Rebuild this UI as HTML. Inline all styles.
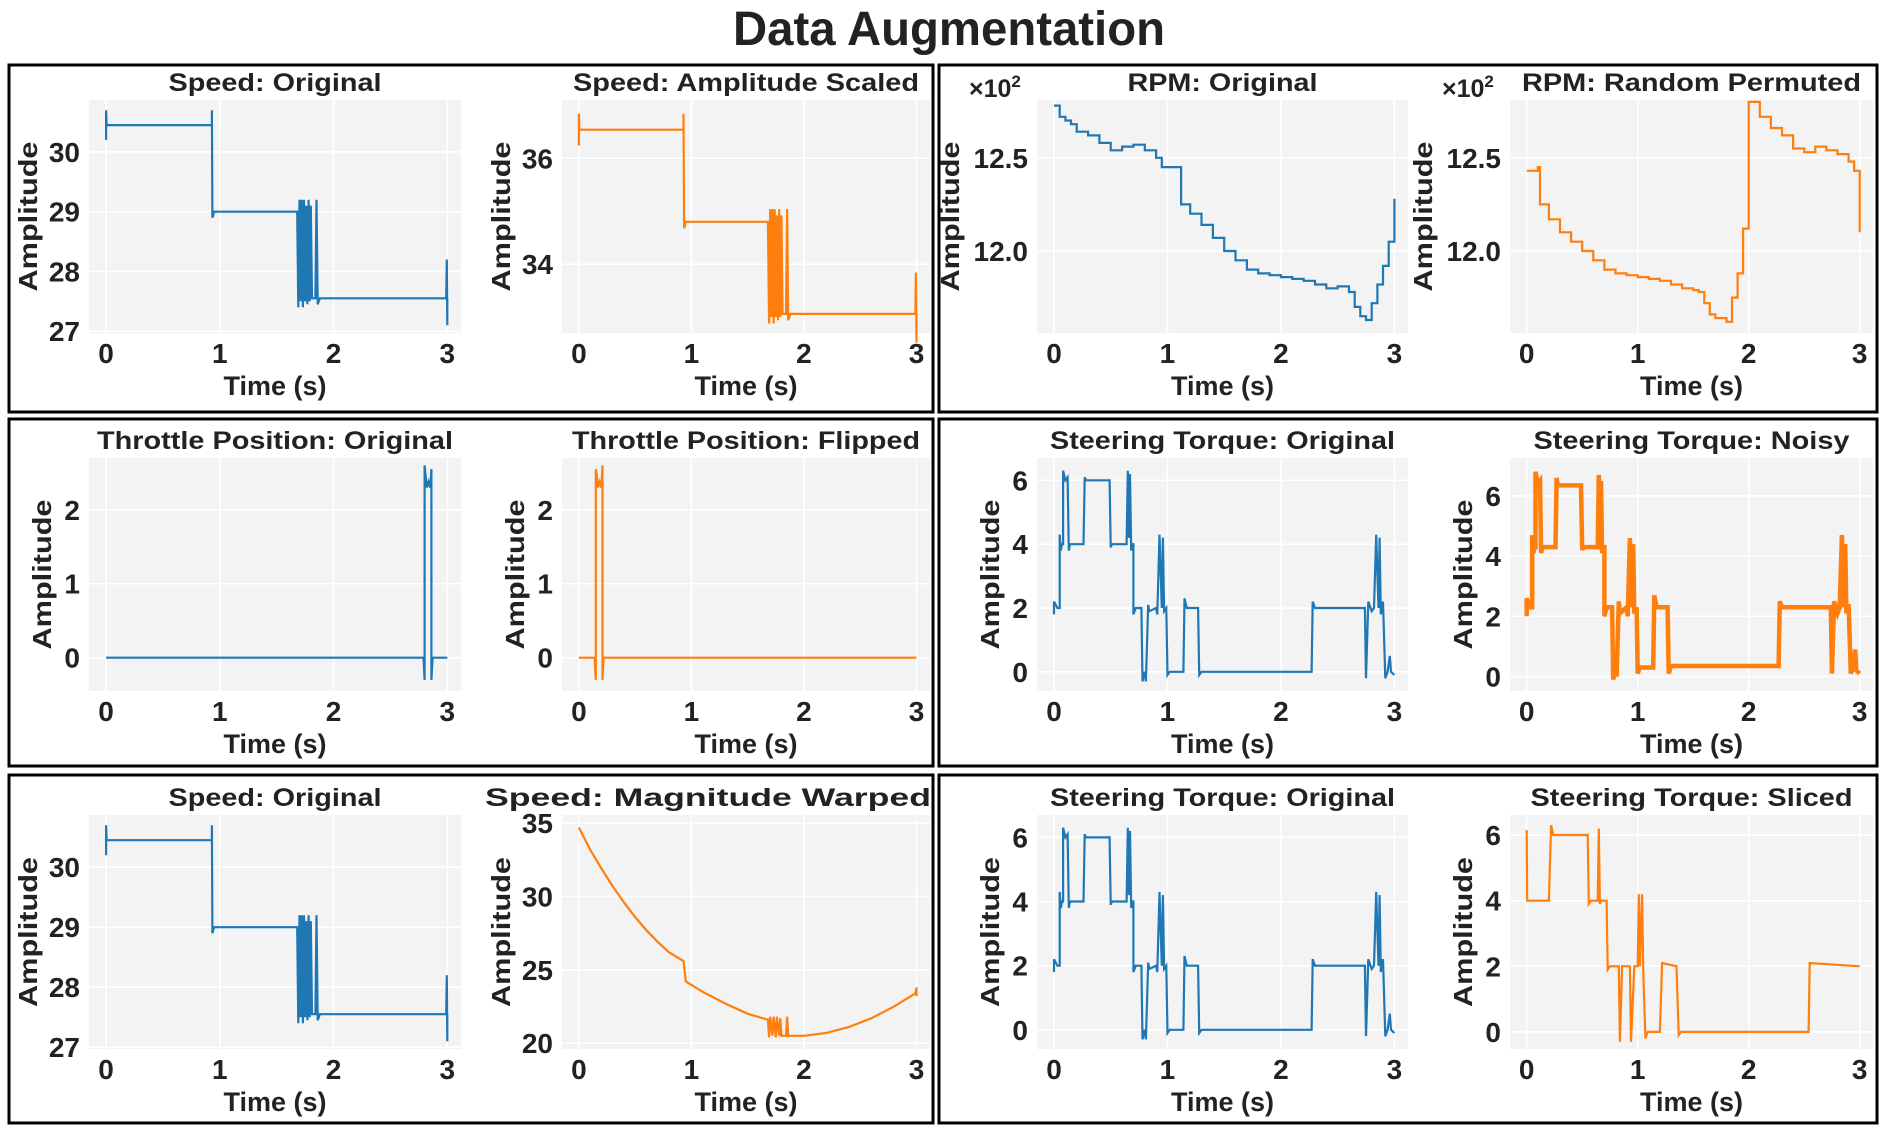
<!DOCTYPE html>
<html><head><meta charset="utf-8"><title>Data Augmentation</title>
<style>
html,body{margin:0;padding:0;background:#fff;}
svg{display:block;font-family:"Liberation Sans",sans-serif;}
</style></head>
<body>
<svg id="fig" width="1890" height="1133" viewBox="0 0 1890 1133" xmlns="http://www.w3.org/2000/svg">
<rect x="0" y="0" width="1890" height="1133" fill="#fff"/>
<text x="949" y="45" text-anchor="middle" font-size="48" font-weight="bold" fill="#222" textLength="432" lengthAdjust="spacingAndGlyphs">Data Augmentation</text>
<rect x="9" y="65" width="924" height="347" fill="none" stroke="#000" stroke-width="3"/>
<rect x="939" y="65" width="938" height="347" fill="none" stroke="#000" stroke-width="3"/>
<rect x="9" y="419" width="924" height="347" fill="none" stroke="#000" stroke-width="3"/>
<rect x="939" y="419" width="938" height="347" fill="none" stroke="#000" stroke-width="3"/>
<rect x="9" y="775" width="924" height="348" fill="none" stroke="#000" stroke-width="3"/>
<rect x="939" y="775" width="938" height="348" fill="none" stroke="#000" stroke-width="3"/>
</svg>
<script>
// ---- data ----
var speedT = [0,0,0.005,0.93,0.93,0.935,0.95,1.68,1.69,1.70,1.71,1.72,1.73,1.74,1.75,1.76,1.77,1.78,1.79,1.80,1.81,1.84,1.85,1.86,1.88,2.99,2.995,3.0,3.0,3.005];
var speedV = [30.2,30.7,30.45,30.45,30.7,28.9,29.0,29.0,27.4,29.2,27.5,29.2,27.4,29.2,27.5,29.1,27.45,29.2,27.5,29.1,27.55,27.55,29.2,27.45,27.55,27.55,28.2,27.1,27.55,27.55];
var scaledT = [0,0,0.005,0.93,0.93,0.935,0.95,1.68,1.69,1.70,1.71,1.72,1.73,1.74,1.75,1.76,1.77,1.78,1.79,1.80,1.81,1.84,1.85,1.86,1.88,2.99,2.995,3.0,3.0,3.005];
var scaledV = [36.24,36.84,36.54,36.54,36.84,34.68,34.8,34.8,32.88,35.04,33.0,35.04,32.88,35.04,33.0,34.92,32.94,35.04,33.0,34.92,33.06,33.06,35.04,32.94,33.06,33.06,33.84,32.52,33.06,33.06];
var rpmT = [0,0.05,0.1,0.15,0.2,0.3,0.4,0.5,0.6,0.7,0.8,0.9,0.95,1.1,1.12,1.2,1.3,1.4,1.5,1.6,1.7,1.8,1.9,2.0,2.1,2.2,2.3,2.4,2.5,2.6,2.65,2.7,2.75,2.8,2.85,2.9,2.95,3.0];
var rpmV = [12.78,12.72,12.70,12.68,12.64,12.62,12.58,12.54,12.56,12.57,12.54,12.50,12.45,12.45,12.25,12.20,12.14,12.07,12.00,11.95,11.90,11.88,11.87,11.86,11.85,11.84,11.82,11.80,11.81,11.78,11.70,11.65,11.63,11.72,11.82,11.92,12.05,12.28];
var permT = [0,0.1,0.12,0.2,0.3,0.4,0.5,0.6,0.7,0.8,0.9,1.0,1.1,1.2,1.3,1.4,1.5,1.55,1.6,1.65,1.7,1.75,1.8,1.85,1.9,1.95,2.0,2.1,2.2,2.3,2.4,2.5,2.6,2.7,2.8,2.9,2.95,3.0];
var permV = [12.43,12.45,12.25,12.17,12.10,12.05,12.00,11.95,11.90,11.88,11.87,11.86,11.85,11.84,11.82,11.80,11.79,11.78,11.72,11.66,11.64,11.64,11.62,11.75,11.88,12.12,12.80,12.72,12.66,12.62,12.55,12.53,12.56,12.54,12.52,12.48,12.43,12.10];
var throtT = [0,2.79,2.80,2.80,2.81,2.82,2.835,2.85,2.86,2.86,2.87,3.0];
var throtV = [0,0,-0.3,2.6,2.45,2.3,2.38,2.3,2.55,-0.3,0,0];
var flipT = [0,0.14,0.15,0.15,0.16,0.17,0.185,0.20,0.21,0.21,0.22,3.0];
var flipV = [0,0,-0.3,2.55,2.45,2.3,2.38,2.3,2.6,-0.3,0,0];
var steerT = [0,0,0.03,0.05,0.05,0.06,0.07,0.08,0.08,0.10,0.12,0.13,0.14,0.26,0.27,0.28,0.49,0.50,0.51,0.64,0.65,0.66,0.67,0.68,0.69,0.70,0.70,0.72,0.77,0.78,0.80,0.81,0.83,0.84,0.90,0.91,0.93,0.95,0.96,0.97,0.99,1.00,1.02,1.14,1.15,1.17,1.27,1.28,1.30,2.27,2.28,2.30,2.74,2.75,2.77,2.80,2.82,2.84,2.86,2.87,2.88,2.90,2.92,2.94,2.96,2.97,3.0];
var steerV = [1.8,2.2,2.0,2.0,4.3,3.8,4.0,4.0,6.3,6.0,6.1,3.8,4.0,4.0,6.1,6.0,6.0,3.9,4.0,4.0,6.3,4.2,6.2,3.8,4.0,4.0,1.8,2.0,2.0,-0.3,0.0,-0.3,2.1,1.9,2.0,1.8,4.3,2.0,4.2,1.9,2.0,-0.1,0.0,0.0,2.3,2.0,2.0,-0.1,0.0,0.0,2.2,2.0,2.0,-0.2,2.2,1.9,2.0,4.3,2.0,4.2,1.8,2.2,-0.2,0.0,0.5,0.0,-0.1];
var noisyT = [0,0,0.03,0.05,0.05,0.06,0.07,0.08,0.08,0.10,0.12,0.13,0.14,0.26,0.27,0.28,0.49,0.50,0.51,0.64,0.65,0.66,0.67,0.68,0.69,0.70,0.70,0.72,0.77,0.78,0.80,0.81,0.83,0.84,0.90,0.91,0.93,0.95,0.96,0.97,0.99,1.00,1.02,1.14,1.15,1.17,1.27,1.28,1.30,2.27,2.28,2.30,2.74,2.75,2.77,2.80,2.82,2.84,2.86,2.87,2.88,2.90,2.92,2.94,2.96,2.97,3.0];
var noisyV = [2.0,2.6,2.3,2.3,4.7,4.1,4.3,4.3,6.8,6.4,6.5,4.1,4.3,4.3,6.6,6.35,6.35,4.2,4.3,4.3,6.7,4.5,6.5,4.1,4.3,4.3,2.0,2.3,2.3,-0.1,0.3,0.0,2.5,2.1,2.3,2.0,4.6,2.3,4.4,2.1,2.3,0.1,0.3,0.3,2.7,2.3,2.3,0.1,0.35,0.35,2.5,2.3,2.3,0.1,2.5,2.1,2.3,4.7,2.3,4.4,2.1,2.4,0.1,0.3,0.9,0.2,0.1];
var sliceT = [0,0.005,0.2,0.22,0.24,0.55,0.56,0.58,0.64,0.65,0.66,0.67,0.72,0.73,0.75,0.83,0.84,0.86,0.93,0.94,0.97,1.0,1.01,1.02,1.04,1.05,1.07,1.09,1.2,1.22,1.35,1.37,1.39,2.54,2.55,3.0];
var sliceV = [6.15,4.0,4.0,6.3,6.0,6.0,3.9,4.0,4.0,6.2,3.9,4.0,4.0,1.9,2.0,2.0,-0.3,2.0,2.0,-0.3,2.0,2.0,4.2,2.0,4.2,1.9,-0.2,0.0,0.0,2.1,2.0,-0.1,0.0,0.0,2.1,2.0];
var warpT = [0,0.1,0.2,0.3,0.4,0.5,0.6,0.7,0.8,0.93,0.93,0.95,1.1,1.3,1.5,1.68,1.69,1.70,1.72,1.73,1.75,1.76,1.78,1.79,1.80,1.84,1.85,1.86,1.9,2.0,2.2,2.4,2.6,2.8,2.99,3.0,3.0];
var warpV = [34.7,33.2,31.9,30.7,29.6,28.6,27.7,26.9,26.2,25.6,25.6,24.2,23.5,22.7,22.0,21.6,20.4,21.8,20.5,21.8,20.4,21.8,20.5,21.7,20.5,20.5,21.8,20.5,20.5,20.5,20.7,21.1,21.7,22.5,23.4,23.8,23.2];
var xTickLabels = ["0","1","2","3"];
var speedTicks = [27,28,29,30];
var scaledTicks = [34,36];
var rpmTicks = [12.0,12.5];
var rpmTickLabels = ["12.0","12.5"];
var throtTicks = [0,1,2];
var steerTicks = [0,2,4,6];
var warpTicks = [20,25,30,35];

var BLUE = "#1f77b4", ORANGE = "#ff7f0e";
var NS = "http://www.w3.org/2000/svg";
var svg = document.getElementById("fig");
function mk(tag, attrs, parent){
  var e = document.createElementNS(NS, tag);
  for (var k in attrs) e.setAttribute(k, attrs[k]);
  (parent||svg).appendChild(e);
  return e;
}

var cols = [[89,461],[562,930],[1037,1408],[1510,1873]];
var rows = [[100,333],[458,691],[815,1049]];

function drawPlot(c){
  var x0 = cols[c.col][0], x1 = cols[c.col][1], y0 = rows[c.row][0], y1 = rows[c.row][1];
  var xl = c.xlim || [-0.15,3.12];
  function sx(t){ return x0 + (t - xl[0])/(xl[1]-xl[0])*(x1-x0); }
  function sy(v){ return y1 - (v - c.ylim[0])/(c.ylim[1]-c.ylim[0])*(y1-y0); }
  var g = mk("g", {});
  
  
  var bg = mk("rect", {x:x0, y:y0, width:x1-x0, height:y1-y0, fill:"#f3f3f3"}, g);
  
  
  var i;
  for (i=0;i<4;i++){
    var gx = sx(i);
    var gl = mk("line", {x1:gx, x2:gx, y1:y0, y2:y1, stroke:"#fff", "stroke-width":1.6}, g);
    
    
    var tl = mk("text", {x:gx, y:y1+30, "text-anchor":"middle", "font-size":28, "font-weight":"bold", fill:"#222"}, g);
    tl.textContent = xTickLabels[i];
    
    
  }
  for (i=0;i<c.yticks.length;i++){
    var gy = sy(c.yticks[i]);
    var yl = mk("line", {x1:x0, x2:x1, y1:gy, y2:gy, stroke:"#fff", "stroke-width":1.6}, g);
    
    
    var yt = mk("text", {x:x0-9, y:gy+10, "text-anchor":"end", "font-size":28, "font-weight":"bold", fill:"#222"}, g);
    yt.textContent = c.ylabels ? c.ylabels[i] : String(c.yticks[i]);
    
    
  }
  var pts = [];
  for (i=0;i<c.t.length;i++){
    if (c.step && i>0) pts.push(sx(c.t[i]).toFixed(1)+","+sy(c.v[i-1]).toFixed(1));
    pts.push(sx(c.t[i]).toFixed(1)+","+sy(c.v[i]).toFixed(1));
  }
  var ln = mk("polyline", {points:pts.join(" "), fill:"none", stroke:c.color, "stroke-width":c.sw||2.2, "stroke-linejoin":"miter"}, g);
  
  
  var tt = mk("text", {x:c.tx || (x0+x1)/2, y:y0-9, "text-anchor":"middle", "font-size":25, "font-weight":"bold", fill:"#222", textLength:c.tw, lengthAdjust:"spacingAndGlyphs"}, g);
  tt.textContent = c.title;
  
  
  var xt = mk("text", {x:(x0+x1)/2, y:y1+62, "text-anchor":"middle", "font-size":27, "font-weight":"bold", fill:"#222"}, g);
  xt.textContent = "Time (s)";
  
  
  var ax = x0 - c.yoff, ay = (y0+y1)/2;
  var yt2 = mk("text", {x:ax, y:ay, "text-anchor":"middle", "dominant-baseline":"central", "font-size":26, "font-weight":"bold", fill:"#222", transform:"rotate(-90 "+ax+" "+ay+")", textLength:150, lengthAdjust:"spacingAndGlyphs"}, g);
  yt2.textContent = "Amplitude";
  
  
  if (c.mult){
    var mt = mk("text", {x:x0-68, y:y0-3, "font-size":25, "font-weight":"bold", fill:"#222"}, g);
    mt.textContent = "×10";
    var sup = mk("tspan", {dy:-10, "font-size":17}, mt);
    sup.textContent = "2";
    
    
  }
}

drawPlot({name:"speed-original-plot", col:0,row:0,ylim:[26.97,30.87],yticks:speedTicks,t:speedT,v:speedV,color:BLUE,title:"Speed: Original",tw:213,yoff:61});
drawPlot({name:"speed-amplitude-scaled-plot", col:1,row:0,ylim:[32.7,37.1],yticks:scaledTicks,t:scaledT,v:scaledV,color:ORANGE,title:"Speed: Amplitude Scaled",tw:346,yoff:61});
drawPlot({name:"rpm-original-plot", col:2,row:0,ylim:[11.56,12.81],yticks:rpmTicks,ylabels:rpmTickLabels,t:rpmT,v:rpmV,step:true,color:BLUE,title:"RPM: Original",tw:190,yoff:87,mult:true});
drawPlot({name:"rpm-random-permuted-plot", col:3,row:0,ylim:[11.56,12.81],yticks:rpmTicks,ylabels:rpmTickLabels,t:permT,v:permV,step:true,color:ORANGE,title:"RPM: Random Permuted",tw:339,yoff:87,mult:true});
drawPlot({name:"throttle-original-plot", col:0,row:1,ylim:[-0.45,2.70],yticks:throtTicks,t:throtT,v:throtV,color:BLUE,title:"Throttle Position: Original",tw:356,yoff:47});
drawPlot({name:"throttle-flipped-plot", col:1,row:1,ylim:[-0.45,2.70],yticks:throtTicks,t:flipT,v:flipV,color:ORANGE,title:"Throttle Position: Flipped",tw:348,yoff:47});
drawPlot({name:"steering-original-plot", col:2,row:1,ylim:[-0.6,6.7],yticks:steerTicks,t:steerT,v:steerV,color:BLUE,title:"Steering Torque: Original",tw:345,yoff:47});
drawPlot({name:"steering-noisy-plot", col:3,row:1,ylim:[-0.48,7.26],yticks:steerTicks,t:noisyT,v:noisyV,color:ORANGE,sw:4.5,title:"Steering Torque: Noisy",tw:316,yoff:47});
drawPlot({name:"speed-original-plot-2", col:0,row:2,ylim:[26.97,30.87],yticks:speedTicks,t:speedT,v:speedV,color:BLUE,title:"Speed: Original",tw:213,yoff:61});
drawPlot({name:"speed-magnitude-warped-plot", col:1,row:2,ylim:[19.6,35.55],yticks:warpTicks,t:warpT,v:warpV,color:ORANGE,title:"Speed: Magnitude Warped",tw:446,tx:708,yoff:61});
drawPlot({name:"steering-original-plot-2", col:2,row:2,ylim:[-0.6,6.7],yticks:steerTicks,t:steerT,v:steerV,color:BLUE,title:"Steering Torque: Original",tw:345,yoff:47});
drawPlot({name:"steering-sliced-plot", col:3,row:2,ylim:[-0.52,6.61],yticks:steerTicks,t:sliceT,v:sliceV,color:ORANGE,title:"Steering Torque: Sliced",tw:322,yoff:47});
</script>
</body></html>
